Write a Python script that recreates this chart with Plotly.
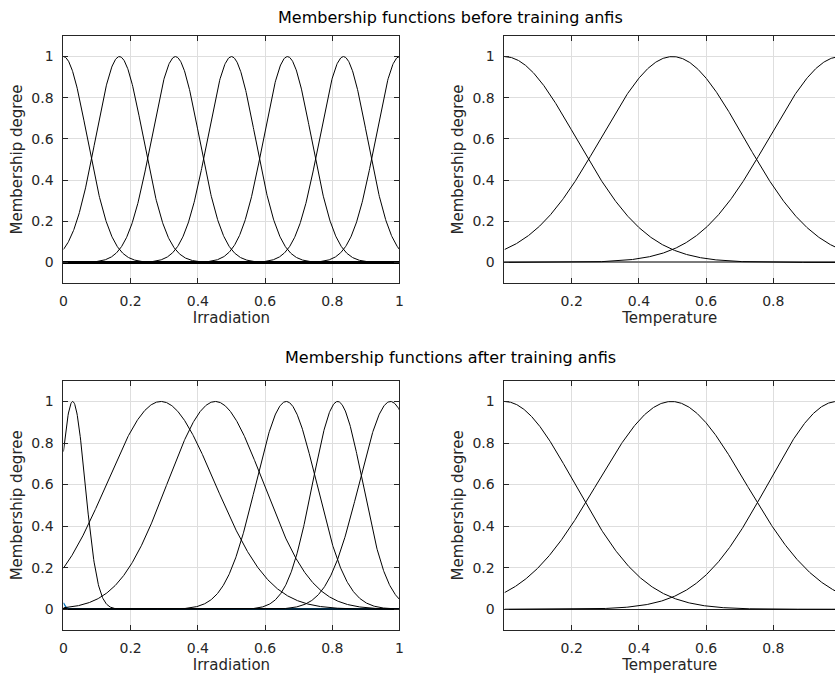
import numpy as np
import plotly.graph_objects as go

# ---- Membership-function parameters (Gaussian MFs: centre, sigma) ----
irr_before_centers = [0.0, 0.1667, 0.3333, 0.5, 0.6667, 0.8333, 1.0]
irr_before_sigmas = [0.0708, 0.0708, 0.0708, 0.0708, 0.0708, 0.0708, 0.0708]

temp_before_centers = [0.0, 0.5, 1.0]
temp_before_sigmas = [0.2123, 0.2123, 0.2123]

irr_after_centers = [0.0275, 0.290, 0.452, 0.663, 0.816, 0.973]
irr_after_sigmas = [0.037, 0.161, 0.143, 0.090, 0.0745, 0.093]
irr_after_extra_center = [-0.05]   # small blue MF near the origin
irr_after_extra_sigma = [0.019]

temp_after_centers = [0.0, 0.497, 0.99]
temp_after_sigmas = [0.208, 0.221, 0.2055]

x_ticks_irr = [0, 0.2, 0.4, 0.6, 0.8, 1]
x_ticks_temp = [0.2, 0.4, 0.6, 0.8, 1]
y_ticks = [0, 0.2, 0.4, 0.6, 0.8, 1]

titles = ["Membership functions before training anfis",
          "Membership functions after training anfis"]

x = np.linspace(0, 1, 801)


def gaussmf(xv, c, s):
    return np.exp(-((xv - c) ** 2) / (2 * s ** 2))


W, H = 839, 675
FONT = "DejaVu Sans"
AX = "#262626"
GRID = "#dedede"

fig = go.Figure()


def add_mfs(centers, sigmas, xa, ya, color="black", width=1):
    for c, s in zip(centers, sigmas):
        fig.add_trace(go.Scatter(x=x, y=gaussmf(x, c, s), mode="lines",
                                 line=dict(color=color, width=width),
                                 xaxis=xa, yaxis=ya, showlegend=False,
                                 hoverinfo="skip"))


add_mfs(irr_before_centers, irr_before_sigmas, "x", "y")
add_mfs(temp_before_centers, temp_before_sigmas, "x2", "y2")
add_mfs(irr_after_extra_center, irr_after_extra_sigma, "x3", "y3", color="#0072BD", width=1.3)
add_mfs(irr_after_centers, irr_after_sigmas, "x3", "y3")
add_mfs(temp_after_centers, temp_after_sigmas, "x4", "y4")


def px_x(p):
    return p / W


def px_y(p):
    return 1 - p / H


L1, R1 = 60, 399.3
L2 = 505.3
T1, B1 = 36, 283
T2, B2 = 380.7, 630
temp_right = (W - L2) / (R1 - L1)  # axis clipped at window edge


def xaxis(dom, anchor, rng, ticks, title, mirror="ticks"):
    return dict(domain=dom, anchor=anchor, range=rng, tickvals=ticks,
                showgrid=True, gridcolor=GRID, gridwidth=1,
                showline=True, linecolor=AX, linewidth=1, mirror=mirror,
                ticks="inside", ticklen=5, tickcolor=AX,
                tickfont=dict(family=FONT, size=14, color=AX),
                ticklabelstandoff=5,
                zeroline=False,
                title=dict(text=title, font=dict(family=FONT, size=15, color=AX),
                           standoff=4))


def yaxis(dom, anchor, zc, zw, mirror="ticks"):
    return dict(domain=dom, anchor=anchor, range=[-0.1, 1.1], tickvals=y_ticks,
                showgrid=True, gridcolor=GRID, gridwidth=1,
                showline=True, linecolor=AX, linewidth=1, mirror=mirror,
                ticks="inside", ticklen=5, tickcolor=AX,
                tickfont=dict(family=FONT, size=14, color=AX),
                ticklabelstandoff=6,
                zeroline=True, zerolinecolor=zc, zerolinewidth=zw,
                title=dict(text="Membership degree",
                           font=dict(family=FONT, size=15, color=AX),
                           standoff=5))


fig.update_layout(
    width=W, height=H,
    margin=dict(l=0, r=0, t=0, b=0),
    paper_bgcolor="white", plot_bgcolor="white",
    showlegend=False,
    xaxis=xaxis([px_x(L1), px_x(R1)], "y", [0, 1], x_ticks_irr, "Irradiation"),
    yaxis=yaxis([px_y(B1), px_y(T1)], "x", "black", 2.5),
    xaxis2=xaxis([px_x(L2), 1], "y2", [0, temp_right], x_ticks_temp, "Temperature"),
    yaxis2=yaxis([px_y(B1), px_y(T1)], "x2", "#7a7a7a", 2, mirror=False),
    xaxis3=xaxis([px_x(L1), px_x(R1)], "y3", [0, 1], x_ticks_irr, "Irradiation"),
    yaxis3=yaxis([px_y(B2), px_y(T2)], "x3", "black", 1.5),
    xaxis4=xaxis([px_x(L2), 1], "y4", [0, temp_right], x_ticks_temp, "Temperature"),
    yaxis4=yaxis([px_y(B2), px_y(T2)], "x4", "#222222", 1, mirror=False),
    annotations=[
        dict(text=titles[0], x=px_x(451), y=px_y(17), xref="paper", yref="paper",
             xanchor="center", yanchor="middle", showarrow=False,
             font=dict(family=FONT, size=16, color="black")),
        dict(text=titles[1], x=px_x(451), y=px_y(357), xref="paper", yref="paper",
             xanchor="center", yanchor="middle", showarrow=False,
             font=dict(family=FONT, size=16, color="black")),
    ],
)

fig.write_html("out.html")
